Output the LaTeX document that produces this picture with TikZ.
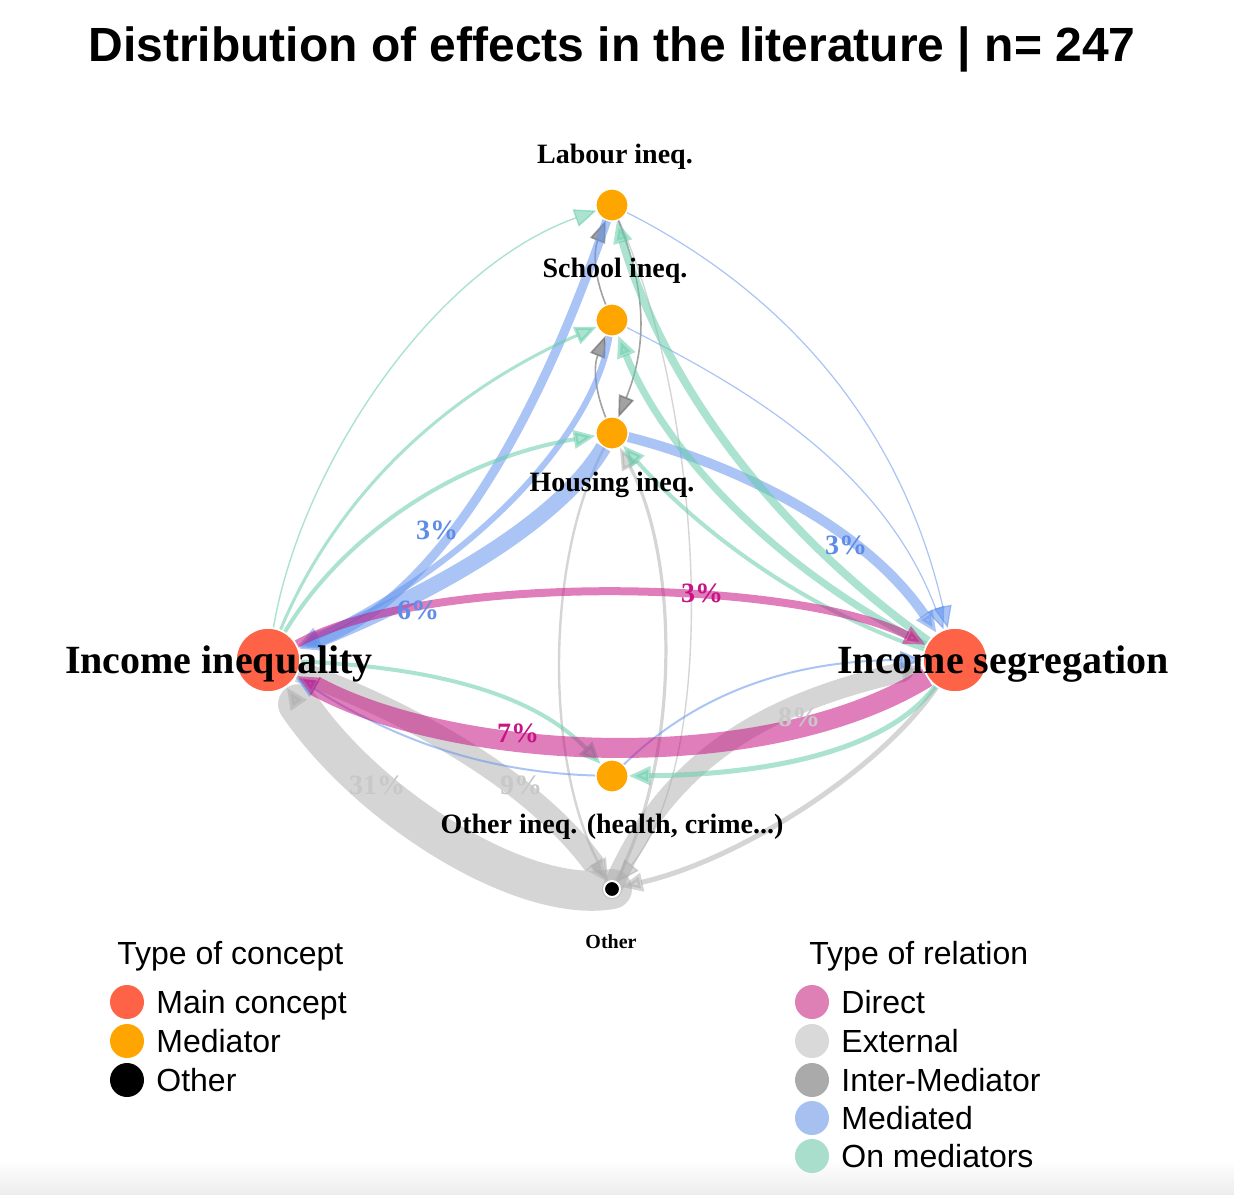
\documentclass[tikz,border=0pt]{standalone}
\usepackage{fontspec}
\setmainfont{Liberation Serif}
\setsansfont{Liberation Sans}
\usetikzlibrary{arrows.meta}
\pgfdeclarelayer{bgl}
\pgfdeclarelayer{edges}
\pgfsetlayers{bgl,edges,main}
\definecolor{tomatoC}{RGB}{255,99,71}
\definecolor{orangeC}{RGB}{255,165,0}
\definecolor{directC}{RGB}{199,21,133}
\definecolor{extC}{RGB}{172,172,172}
\definecolor{interC}{RGB}{100,100,100}
\definecolor{medC}{RGB}{100,149,237}
\definecolor{onmC}{RGB}{102,205,170}
\definecolor{directL}{RGB}{222,127,182}
\definecolor{extL}{RGB}{217,217,217}
\definecolor{interL}{RGB}{170,170,170}
\definecolor{medL}{RGB}{166,192,240}
\definecolor{onmL}{RGB}{168,222,203}
\definecolor{pctBlue}{RGB}{95,140,230}
\definecolor{pctPink}{RGB}{199,21,133}
\definecolor{pctGray}{RGB}{200,200,200}
\tikzset{
  mainnode/.style={circle, fill=tomatoC, draw=white, line width=0.8pt, minimum size=32pt, inner sep=0pt},
  mednode/.style={circle, fill=orangeC, draw=white, line width=0.6pt, minimum size=16pt, inner sep=0pt},
  othnode/.style={circle, fill=black, draw=white, line width=1pt, minimum size=8pt, inner sep=0pt},
  edgebase/.style={-{Triangle[length=11pt,width=9pt]}},
  directE/.style={edgebase, draw=directC, opacity=0.55},
  extE/.style={edgebase, draw=extC, opacity=0.5},
  interE/.style={-{Triangle[length=11pt,width=8pt]}, draw=interC, opacity=0.6, line width=0.8pt},
  medE/.style={edgebase, draw=medC, opacity=0.55},
  onmE/.style={edgebase, draw=onmC, opacity=0.55},
  biglab/.style={font=\fontsize{20}{24}\selectfont\bfseries, anchor=base, inner sep=0pt},
  medlab/.style={font=\fontsize{14}{16}\selectfont\bfseries, anchor=base, inner sep=0pt},
  othlab/.style={font=\fontsize{10}{12}\selectfont\bfseries, anchor=base, inner sep=0pt},
  pct/.style={font=\fontsize{14}{16}\selectfont\bfseries, inner sep=0pt},
  legtitle/.style={font=\sffamily\fontsize{16}{19}\selectfont, anchor=base west, inner sep=0pt},
  legtext/.style={font=\sffamily\fontsize{16}{19}\selectfont, anchor=base west, inner sep=0pt},
  legdot/.style={circle, minimum size=17pt, inner sep=0pt}
}
\begin{document}
\begin{tikzpicture}[x=0.5pt,y=-0.5pt]
\begin{pgfonlayer}{bgl}
\fill[white] (0,0) rectangle (1234,1194);
\shade[top color=white,bottom color=black!7] (0,1160) rectangle (1234,1194);
\end{pgfonlayer}
\useasboundingbox (0,0) rectangle (1234,1194);

% title
\node[font=\sffamily\bfseries\fontsize{24}{28}\selectfont, anchor=base, inner sep=0pt] (title) at (612,61) {Distribution of effects in the literature | n= 247};

% vertices
\node[mainnode] (ii) at (268,660) {};
\node[mainnode] (is) at (955,660) {};
\node[mednode] (lab) at (612,205) {};
\node[mednode] (sch) at (612,320) {};
\node[mednode] (hou) at (612,433) {};
\node[mednode] (oi) at (612,776) {};
\node[othnode] (oth) at (612,889) {};

\begin{pgfonlayer}{edges}
% External
\draw[extE, line width=20pt, line cap=round] (oth.center) .. controls (525,905) and (370,810) .. (ii);
\draw[extE, line width=11pt] (ii) .. controls (430,720) and (540,790) .. (oth);
\draw[extE, line width=10pt, line cap=round] (oth.center) .. controls (670,750) and (780,700) .. (is);
\draw[extE, line width=2.5pt] (is) .. controls (880,770) and (740,860) .. (oth);
\draw[extE, line width=1.2pt] (hou) .. controls (545,560) and (545,760) .. (oth);
\draw[extE, line width=1.6pt] (oth) .. controls (680,760) and (680,560) .. (hou);
\draw[extE, line width=0.7pt] (lab) .. controls (700,400) and (725,750) .. (oth);
% Inter-mediator
\draw[interE] (sch) to[bend left=22] (lab);
\draw[interE] (hou) to[bend left=22] (sch);
\draw[interE] (lab) to[bend left=22] (hou);
% Mediated
\draw[medE, line width=4.5pt] (lab) .. controls (522,468) and (418,606) .. (ii);
\draw[medE, line width=3pt] (sch) .. controls (595,430) and (480,560) .. (ii);
\draw[medE, line width=8pt] (hou) .. controls (560,520) and (440,590) .. (ii);
\draw[medE, line width=5pt] (hou) .. controls (720,460) and (860,520) .. (is);
\draw[medE, line width=0.6pt] (lab) .. controls (780,290) and (900,420) .. (is);
\draw[medE, line width=0.6pt] (sch) .. controls (730,380) and (880,460) .. (is);
\draw[medE, line width=1pt] (oi) .. controls (470,772) and (380,730) .. (ii);
\draw[medE, line width=1pt] (oi) .. controls (690,700) and (780,660) .. (is);
% On mediators
\draw[onmE, line width=0.7pt] (ii) .. controls (300,470) and (430,270) .. (lab);
\draw[onmE, line width=1.5pt] (ii) .. controls (330,510) and (430,400) .. (sch);
\draw[onmE, line width=2pt] (ii) .. controls (340,540) and (450,460) .. (hou);
\draw[onmE, line width=2pt] (ii) .. controls (450,668) and (540,700) .. (oi);
\draw[onmE, line width=4pt] (is) .. controls (760,520) and (660,370) .. (lab);
\draw[onmE, line width=3.5pt] (is) .. controls (760,560) and (660,440) .. (sch);
\draw[onmE, line width=2pt] (is) .. controls (780,600) and (680,510) .. (hou);
\draw[onmE, line width=2.5pt] (is) .. controls (880,760) and (740,775) .. (oi);
% Direct
\draw[directE, line width=4pt] (ii) .. controls (430,570) and (800,580) .. (is);
\draw[directE, line width=10pt] (is) .. controls (760,780) and (450,760) .. (ii);
\end{pgfonlayer}

% vertex labels
\node[biglab] (iil) at (219,673) {Income inequality};
\node[biglab] (isl) at (1003,673) {Income segregation};
\node[medlab] (labl) at (615,163) {Labour ineq.};
\node[medlab] (schl) at (615,277) {School ineq.};
\node[medlab] (houl) at (612,491) {Housing ineq.};
\node[medlab] (oil) at (612,833) {Other ineq. (health, crime...)};
\node[othlab] (othl) at (611,948) {Other};

% edge labels
\node[pct, text=pctBlue] (p1) at (437,530) {3\%};
\node[pct, text=pctBlue] (p2) at (418,610) {6\%};
\node[pct, text=pctPink] (p3) at (702,593) {3\%};
\node[pct, text=pctBlue] (p4) at (846,545) {3\%};
\node[pct, text=pctPink] (p5) at (518,733) {7\%};
\node[pct, text=pctGray] (p6) at (799,717) {8\%};
\node[pct, text=pctGray] (p7) at (521,785) {9\%};
\node[pct, text=pctGray] (p8) at (377,785) {31\%};

% legend: concept
\node[legtitle] (lt1) at (117,964) {Type of concept};
\node[legdot, fill=tomatoC] (c1) at (127,1002) {};
\node[legdot, fill=orangeC] (c2) at (127,1041) {};
\node[legdot, fill=black] (c3) at (127,1080) {};
\node[legtext] (t1) at (156,1013) {Main concept};
\node[legtext] (t2) at (156,1052) {Mediator};
\node[legtext] (t3) at (156,1091) {Other};

% legend: relation
\node[legtitle] (lt2) at (809,964) {Type of relation};
\node[legdot, fill=directL] (r1) at (812,1002) {};
\node[legdot, fill=extL] (r2) at (812,1041) {};
\node[legdot, fill=interL] (r3) at (812,1080) {};
\node[legdot, fill=medL] (r4) at (812,1118) {};
\node[legdot, fill=onmL] (r5) at (812,1156) {};
\node[legtext] (u1) at (841,1013) {Direct};
\node[legtext] (u2) at (841,1052) {External};
\node[legtext] (u3) at (841,1091) {Inter-Mediator};
\node[legtext] (u4) at (841,1129) {Mediated};
\node[legtext] (u5) at (841,1167) {On mediators};
\end{tikzpicture}
\end{document}
